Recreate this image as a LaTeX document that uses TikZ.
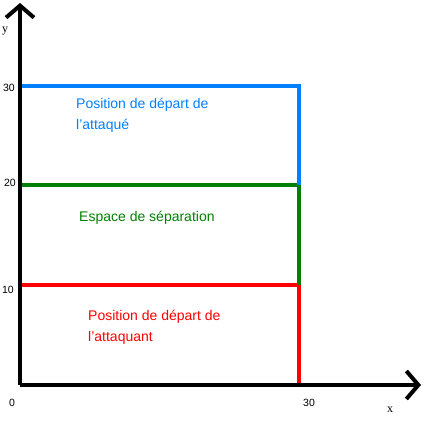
\documentclass[tikz,border=0pt]{standalone}
\usepackage{fontspec}
\setmainfont{Liberation Sans}
\newfontfamily\serifaxis{Liberation Serif}
\usetikzlibrary{arrows.meta}
\tikzset{
  axis/.style={line width=4.5pt,-{Straight Barb[length=12pt,width=28pt,line width=4pt]}},
  zone/.style={line width=3.5pt},
  zonetext/.style={anchor=west,align=left,inner sep=0pt,font=\fontsize{14}{21}\selectfont},
  tick/.style={inner sep=0pt,font=\fontsize{10.5}{12}\selectfont}
}
\definecolor{attaque}{RGB}{0,128,255}
\definecolor{separation}{RGB}{0,128,0}
\definecolor{attaquant}{RGB}{255,0,0}
\begin{document}
\begin{tikzpicture}[x=1pt,y=1pt]
    \useasboundingbox (0,0) rectangle (427,425);
    \coordinate (O) at (20,40);
    \coordinate (xend) at (421,40);
    \coordinate (yend) at (20,422);
    % zones
    \draw[zone,attaquant] (20,140)--(299,140)--(299,40);
    \draw[zone,separation] (20,240)--(299,240)--(299,140);
    \draw[zone,attaque] (20,339)--(299,339)--(299,240);
    % axes
    \draw[axis] (O)--(xend);
    \draw[axis] (O)--(yend);
    % labels
    \node[tick,anchor=east] (y30) at (15,337) {30};
    \node[tick,anchor=east] (y20) at (16,242) {20};
    \node[tick,anchor=east] (y10) at (14,135) {10};
    \node[tick] (zero) at (12,22) {0};
    \node[tick] (x30) at (309,22) {30};
    \node[font=\serifaxis\fontsize{12}{12}\selectfont] (xlab) at (390,15) {x};
    \node[font=\serifaxis\fontsize{12}{12}\selectfont] (ylab) at (5,394) {y};
    \node[zonetext,text=attaque] (attaque) at (76,309.5) {Position de départ de\\l'attaqué};
    \node[zonetext,text=separation] (separation) at (79,207) {Espace de séparation};
    \node[zonetext,text=attaquant] (attaquant) at (88,97.5) {Position de départ de\\l'attaquant};
\end{tikzpicture}
\end{document}
